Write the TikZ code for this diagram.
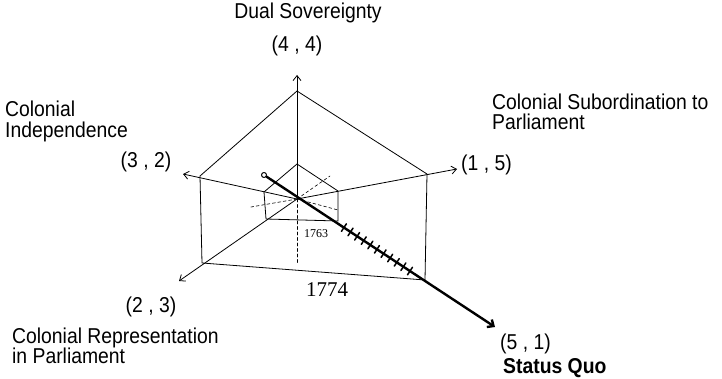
\documentclass[tikz,border=0pt]{standalone}
\usepackage{fontspec}
\setmainfont{Liberation Sans}[FakeStretch=0.9]
\newfontfamily\yearfont{Liberation Serif}
\usetikzlibrary{arrows.meta,calc}
\tikzset{axis/.style={line width=.8pt,-{Straight Barb[length=5pt,width=8pt]}},
 rim/.style={line width=.8pt},
 hidden/.style={line width=.6pt,dash pattern=on 3pt off 2.5pt},
 trend/.style={line width=2.4pt,-{Straight Barb[length=5pt,width=9pt]}},
 tickmark/.style={line width=1.5pt},
 lbl/.style={inner sep=0pt,font=\fontsize{21.5}{24}\selectfont},
 every picture/.style={line join=round,line cap=round}}

\begin{document}
\begin{tikzpicture}[x=1pt,y=-1pt]
\useasboundingbox (0,0) rectangle (722,379);
\coordinate (O) at (297,199);
\coordinate (ta) at (297,91);
\coordinate (tr) at (427,174);
\coordinate (tbr) at (425,280);
\coordinate (tbl) at (202,263);
\coordinate (tl) at (200,176);
\coordinate (ia) at (297,164);
\coordinate (ir) at (338,191);
\coordinate (ibr) at (338,221);
\coordinate (ibl) at (266,219);
\coordinate (il) at (264,192);
\coordinate (uptip) at (297,75);
\coordinate (lefttip) at (183,174);
\coordinate (righttip) at (457,169);
\coordinate (lowtip) at (179,281);
\coordinate (sqtip) at (495,327);
\coordinate (h1) at (330,176);
\coordinate (h2) at (251,207);
\coordinate (h3) at (338,210);
\coordinate (h4) at (297,263);
\draw[rim] (tl) -- (ta) -- (tr) -- (tbr) -- (tbl) -- cycle;
\draw[rim] (il) -- (ia) -- (ir) -- (ibr) -- (ibl) -- cycle;
\draw[axis] (O) -- (uptip);
\draw[axis] (O) -- (lefttip);
\draw[axis] (O) -- (righttip);
\draw[axis] (O) -- (lowtip);
\draw[hidden] (O) -- (h1);
\draw[hidden] (O) -- (h2);
\draw[hidden] (O) -- (h3);
\draw[hidden] (O) -- (h4);
\node[circle,draw,fill=white,line width=1pt,inner sep=0pt,minimum size=5pt] (start) at (264,175) {};
\draw[trend] (start) -- (sqtip);
\foreach \t in {0,...,10}{
 \coordinate (m) at ($(start)!{0.346+\t*0.0286}!(sqtip)$);
 \draw[tickmark] ($(m)!4.5pt!90:(sqtip)$) -- ($(m)!4.5pt!-90:(sqtip)$);
}
\node[lbl,anchor=base] (dual) at (308,19) {Dual Sovereignty};
\node[lbl,anchor=base] (c44) at (297,52) {(4 , 4)};
\node[lbl,anchor=base west] (ci1) at (5,117) {Colonial};
\node[lbl,anchor=base west] (ci2) at (5,138) {Independence};
\node[lbl,anchor=base] (c32) at (146,168) {(3 , 2)};
\node[lbl,anchor=base west] (cs1) at (492,110) {Colonial Subordination to};
\node[lbl,anchor=base west] (cs2) at (492,130) {Parliament};
\node[lbl,anchor=base west] (c15) at (461,171) {(1 , 5)};
\node[lbl,anchor=base] (c23) at (151,312) {(2 , 3)};
\node[lbl,anchor=base west] (cr1) at (12,343) {Colonial Representation};
\node[lbl,anchor=base west] (cr2) at (12,363) {in Parliament};
\node[lbl,anchor=base west] (c51) at (500,349) {(5 , 1)};
\node[lbl,anchor=base west,font=\fontsize{21.5}{24}\selectfont\bfseries] (sq) at (503,373) {Status Quo};
\node[inner sep=0pt,anchor=base,font=\yearfont\fontsize{21}{24}\selectfont] (y1774) at (327,296) {1774};
\node[inner sep=0pt,anchor=base,font=\yearfont\fontsize{12}{14}\selectfont] (y1763) at (316,237) {1763};
\end{tikzpicture}
\end{document}
